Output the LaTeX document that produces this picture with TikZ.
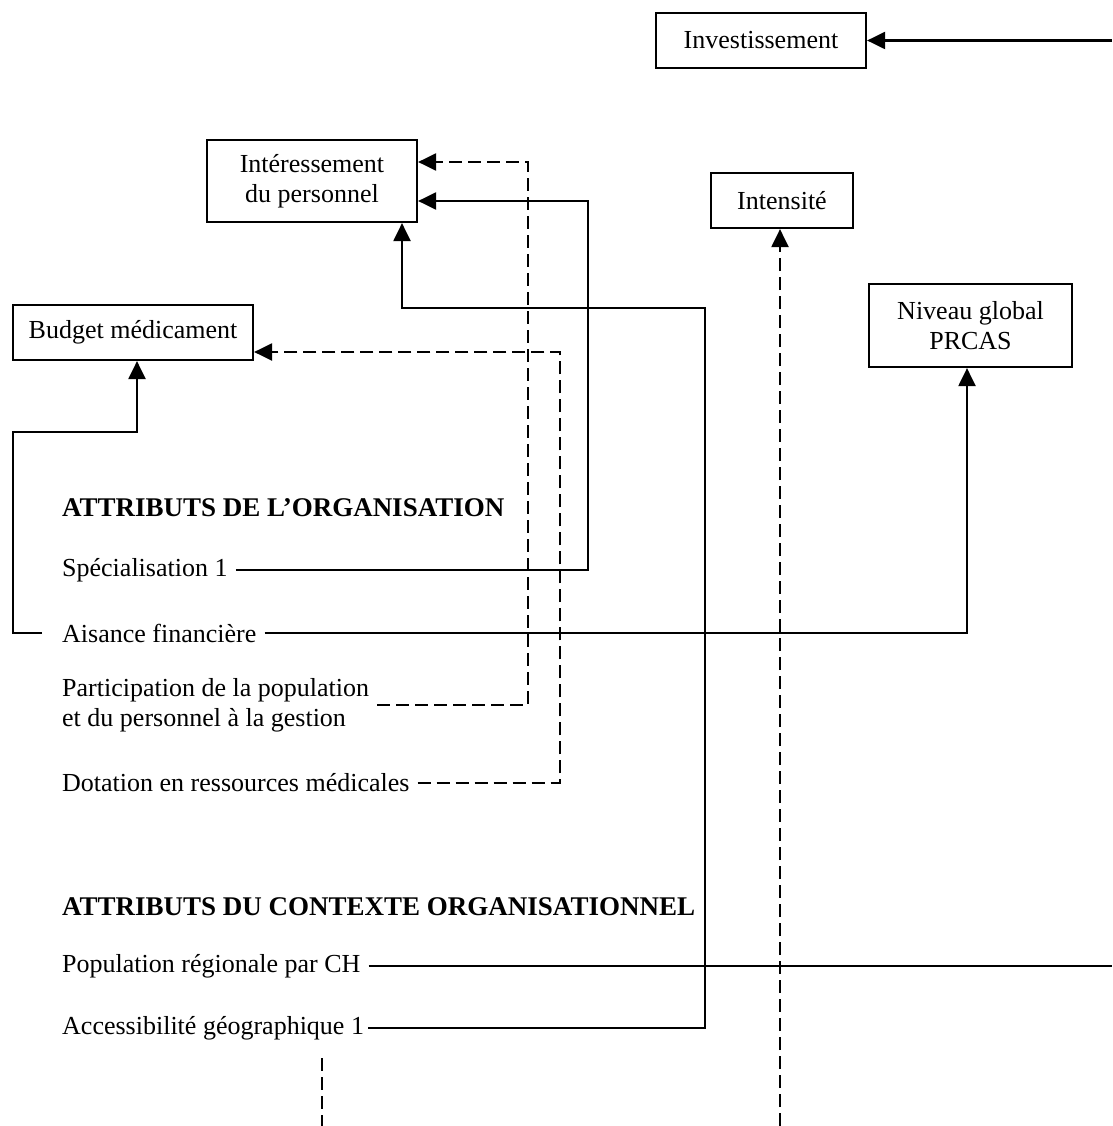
\documentclass[tikz,border=0pt]{standalone}
\usepackage{fontspec}
\setmainfont{Liberation Serif}
\usetikzlibrary{arrows.meta,calc}
\begin{document}
\begin{tikzpicture}[x=1pt,y=-1pt,
  font=\fontsize{26}{30}\selectfont,
  box/.style={draw,line width=2.2pt,align=center,inner sep=0pt},
  lbl/.style={anchor=west,inner xsep=8pt,inner ysep=0pt,align=left},
  ttl/.style={lbl,font=\fontsize{27}{31}\selectfont\bfseries},
  conn/.style={line width=2.2pt},
  dsh/.style={dash pattern=on 13pt off 6pt},
  arr/.style={-{Triangle[length=18pt,width=17pt]}}]
\useasboundingbox (0,0) rectangle (1112,1126);

% boxes
\node[box,minimum width=210pt,minimum height=55pt] (invest) at (761,40.5) {Investissement};
\node[box,minimum width=210pt,minimum height=82pt] (interest) at (312,181) {Intéressement\\du personnel};
\node[box,minimum width=240pt,minimum height=55pt] (budget) at (133,332.5) {Budget médicament};
\node[box,minimum width=142pt,minimum height=55pt] (intens) at (782,200.5) {Intensité};
\node[box,minimum width=203pt,minimum height=83pt] (niveau) at (970.5,325.5) {Niveau global\\PRCAS};

% labels
\node[ttl] (torg) at (54,508) {ATTRIBUTS DE L’ORGANISATION};
\node[lbl] (spec) at (54,570) {Spécialisation 1};
\node[lbl] (aisance) at (54,633) {Aisance financière};
\node[lbl] (particip) at (54,705) {Participation de la population\\et du personnel à la gestion};
\node[lbl] (dotation) at (54,783) {Dotation en ressources médicales};
\node[ttl] (tctx) at (54,907) {ATTRIBUTS DU CONTEXTE ORGANISATIONNEL};
\node[lbl] (pop) at (54,966) {Population régionale par CH};
\node[lbl,inner xsep=4pt] (access) at (58,1028) {Accessibilité géographique 1};

% coordinates
\coordinate (investsrc) at (1112,40.5);
\coordinate (p1) at (528,162);
\coordinate (p2) at (588,201);
\coordinate (p3) at (705,308);
\coordinate (p4) at (402,308);
\coordinate (p5) at (560,352);
\coordinate (p6) at (13,633);
\coordinate (p7) at (13,432);
\coordinate (p8) at (137,432);
\coordinate (p9) at (967,633);
\coordinate (popend) at (1112,966);
\coordinate (intsrc) at (780,1126);
\coordinate (d1) at (322,1058);
\coordinate (d2) at (322,1126);

% connectors
\draw[conn,arr] (investsrc) -- (invest.east);
\draw[conn,dsh,arr] (particip.east) -| (p1) -- (p1 -| interest.east);
\draw[conn,arr] (spec.east) -| (p2) -- (p2 -| interest.east);
\draw[conn,arr] (access.east) -| (p3) -- (p4) -- (p4 |- interest.south);
\draw[conn,dsh,arr] (dotation.east) -| (p5) -- (p5 -| budget.east);
\draw[conn,arr] ([xshift=-12pt]aisance.west) -- (p6) -- (p7) -- (p8) -- (p8 |- budget.south);
\draw[conn,arr] (aisance.east) -- (p9) -- (p9 |- niveau.south);
\draw[conn] (pop.east) -- (popend);
\draw[conn,dsh,arr] (intsrc) -- (intsrc |- intens.south);
\draw[conn,dsh] (d1) -- (d2);
\end{tikzpicture}
\end{document}
